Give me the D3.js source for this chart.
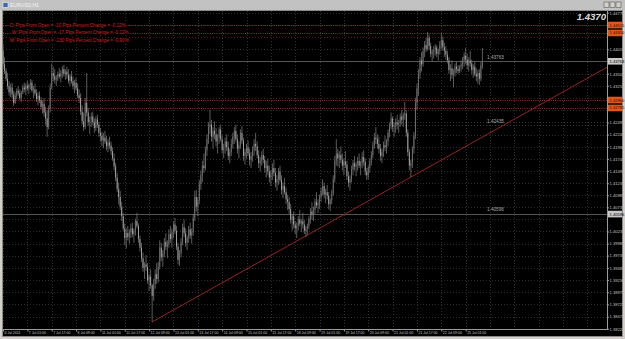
<!DOCTYPE html>
<html><head><meta charset="utf-8">
<script src="https://cdn.jsdelivr.net/npm/d3@7"></script>
<style>html,body{margin:0;padding:0;background:#d4d0c8;overflow:hidden}svg{display:block}</style>
</head><body><svg id="c" width="625" height="339"></svg>
<script>
const symbolTitle = "EURUSD,H1";
const bigPrice = "1.4370";
const infoTexts = [
  "D: Pips From Open = -10 Pips  Percent Change = -0.12%",
  "W: Pips From Open = -17 Pips  Percent Change = -0.12%",
  "M: Pips From Open = -130 Pips  Percent Change = -0.90%"
];
const firstOpen = 1.4398;
const highs = [
1.4410,1.4385,1.4362,1.4352,1.4335,1.4330,1.4332,1.4315,1.4312,1.4320,
1.4325,1.4318,1.4315,1.4328,1.4332,1.4330,1.4336,1.4330,1.4340,1.4338,
1.4325,1.4330,1.4318,1.4312,1.4314,1.4302,1.4295,1.4300,1.4282,1.4275,
1.4285,1.4330,1.4372,1.4365,1.4360,1.4348,1.4355,1.4362,1.4358,1.4366,
1.4369,1.4360,1.4365,1.4360,1.4350,1.4356,1.4345,1.4338,1.4342,1.4330,
1.4318,1.4310,1.4285,1.4270,1.4300,1.4352,1.4280,1.4262,1.4270,1.4272,
1.4258,1.4262,1.4266,1.4250,1.4238,1.4230,1.4228,1.4232,1.4222,1.4215,
1.4220,1.4210,1.4198,1.4185,1.4165,1.4145,1.4125,1.4108,1.4085,1.4062,
1.4040,1.4030,1.4035,1.4028,1.4040,1.4042,1.4030,1.4050,1.4062,1.4040,
1.4015,1.4000,1.3980,1.3960,1.3975,1.3958,1.3935,1.3945,1.3915,1.3925,
1.3945,1.3958,1.3960,1.4005,1.4000,1.3985,1.4010,1.4020,1.4005,1.4028,
1.4035,1.4030,1.4045,1.4052,1.4035,1.4000,1.3985,1.4010,1.4040,1.4048,
1.4030,1.4015,1.4035,1.4042,1.4030,1.4060,1.4108,1.4110,1.4095,1.4130,
1.4150,1.4170,1.4185,1.4200,1.4225,1.4250,1.4276,1.4255,1.4240,1.4252,
1.4238,1.4225,1.4240,1.4245,1.4222,1.4205,1.4218,1.4225,1.4210,1.4195,
1.4215,1.4228,1.4240,1.4245,1.4225,1.4210,1.4235,1.4242,1.4218,1.4195,
1.4205,1.4212,1.4195,1.4188,1.4200,1.4215,1.4228,1.4210,1.4192,1.4178,
1.4190,1.4195,1.4180,1.4170,1.4175,1.4160,1.4150,1.4165,1.4172,1.4155,
1.4140,1.4155,1.4160,1.4140,1.4125,1.4135,1.4115,1.4100,1.4095,1.4080,
1.4060,1.4065,1.4045,1.4042,1.4055,1.4068,1.4050,1.4062,1.4048,1.4035,
1.4040,1.4055,1.4072,1.4084,1.4075,1.4092,1.4105,1.4090,1.4100,1.4115,
1.4132,1.4125,1.4112,1.4120,1.4105,1.4092,1.4110,1.4140,1.4180,1.4215,
1.4195,1.4190,1.4200,1.4185,1.4175,1.4190,1.4170,1.4148,1.4140,1.4160,
1.4172,1.4180,1.4168,1.4178,1.4185,1.4170,1.4188,1.4192,1.4175,1.4155,
1.4160,1.4175,1.4190,1.4210,1.4228,1.4240,1.4225,1.4220,1.4205,1.4195,
1.4210,1.4222,1.4215,1.4235,1.4250,1.4270,1.4262,1.4250,1.4258,1.4265,
1.4255,1.4268,1.4275,1.4270,1.4292,1.4275,1.4235,1.4195,1.4172,1.4200,
1.4230,1.4300,1.4330,1.4360,1.4385,1.4395,1.4405,1.4418,1.4425,1.4437,
1.4432,1.4415,1.4400,1.4408,1.4412,1.4410,1.4402,1.4418,1.4435,1.4428,
1.4415,1.4408,1.4398,1.4385,1.4370,1.4378,1.4360,1.4372,1.4375,1.4368,
1.4368,1.4378,1.4385,1.4395,1.4404,1.4392,1.4385,1.4398,1.4380,1.4370,
1.4375,1.4362,1.4358,1.4360,1.4375,1.4404
];
const lows = [
1.4362,1.4350,1.4335,1.4318,1.4305,1.4302,1.4300,1.4284,1.4288,1.4298,
1.4305,1.4296,1.4292,1.4308,1.4312,1.4306,1.4315,1.4308,1.4318,1.4312,
1.4300,1.4305,1.4292,1.4285,1.4290,1.4276,1.4268,1.4262,1.4245,1.4220,
1.4235,1.4270,1.4318,1.4335,1.4330,1.4325,1.4335,1.4340,1.4332,1.4342,
1.4345,1.4338,1.4340,1.4330,1.4325,1.4330,1.4318,1.4310,1.4315,1.4300,
1.4290,1.4265,1.4245,1.4232,1.4236,1.4262,1.4242,1.4225,1.4240,1.4244,
1.4228,1.4232,1.4238,1.4220,1.4210,1.4200,1.4196,1.4205,1.4192,1.4188,
1.4195,1.4182,1.4170,1.4150,1.4128,1.4105,1.4080,1.4068,1.4045,1.4025,
1.3995,1.3988,1.4005,1.3998,1.4010,1.4012,1.4000,1.4015,1.4030,1.4000,
1.3982,1.3960,1.3940,1.3925,1.3942,1.3915,1.3900,1.3905,1.3836,1.3880,
1.3905,1.3915,1.3918,1.3945,1.3962,1.3950,1.3970,1.3985,1.3968,1.3990,
1.4000,1.3990,1.4010,1.4018,1.3985,1.3955,1.3952,1.3970,1.3995,1.4012,
1.3992,1.3985,1.4000,1.4008,1.3998,1.4015,1.4045,1.4065,1.4055,1.4080,
1.4110,1.4125,1.4145,1.4150,1.4180,1.4205,1.4225,1.4210,1.4195,1.4215,
1.4200,1.4185,1.4205,1.4210,1.4185,1.4175,1.4185,1.4190,1.4172,1.4165,
1.4180,1.4195,1.4205,1.4210,1.4185,1.4175,1.4195,1.4205,1.4170,1.4162,
1.4175,1.4180,1.4160,1.4155,1.4168,1.4180,1.4190,1.4175,1.4155,1.4148,
1.4160,1.4165,1.4145,1.4135,1.4140,1.4125,1.4118,1.4130,1.4138,1.4115,
1.4108,1.4120,1.4125,1.4100,1.4092,1.4100,1.4080,1.4068,1.4060,1.4040,
1.4025,1.4030,1.4018,1.4010,1.4025,1.4035,1.4022,1.4030,1.4018,1.4012,
1.4016,1.4028,1.4040,1.4048,1.4045,1.4060,1.4072,1.4062,1.4070,1.4085,
1.4098,1.4092,1.4082,1.4090,1.4070,1.4066,1.4080,1.4098,1.4125,1.4160,
1.4158,1.4155,1.4165,1.4150,1.4140,1.4155,1.4130,1.4115,1.4108,1.4125,
1.4140,1.4150,1.4138,1.4150,1.4155,1.4140,1.4155,1.4160,1.4140,1.4130,
1.4132,1.4145,1.4160,1.4175,1.4195,1.4205,1.4195,1.4185,1.4170,1.4165,
1.4178,1.4190,1.4185,1.4200,1.4218,1.4235,1.4230,1.4220,1.4228,1.4235,
1.4228,1.4240,1.4245,1.4240,1.4255,1.4220,1.4180,1.4150,1.4136,1.4155,
1.4185,1.4215,1.4275,1.4305,1.4340,1.4355,1.4365,1.4385,1.4395,1.4398,
1.4400,1.4385,1.4376,1.4382,1.4388,1.4385,1.4378,1.4390,1.4402,1.4398,
1.4385,1.4380,1.4372,1.4350,1.4335,1.4340,1.4322,1.4345,1.4352,1.4350,
1.4352,1.4355,1.4360,1.4365,1.4370,1.4360,1.4355,1.4365,1.4350,1.4342,
1.4345,1.4335,1.4330,1.4327,1.4335,1.4360
];
const closes = [
1.4370,1.4356,1.4340,1.4325,1.4312,1.4322,1.4308,1.4290,1.4305,1.4315,
1.4310,1.4300,1.4312,1.4322,1.4318,1.4326,1.4320,1.4328,1.4332,1.4316,
1.4318,1.4310,1.4298,1.4305,1.4295,1.4282,1.4288,1.4270,1.4258,1.4240,
1.4278,1.4322,1.4352,1.4345,1.4338,1.4342,1.4350,1.4345,1.4352,1.4360,
1.4350,1.4355,1.4348,1.4336,1.4345,1.4335,1.4325,1.4332,1.4320,1.4306,
1.4300,1.4272,1.4252,1.4240,1.4290,1.4270,1.4250,1.4255,1.4262,1.4250,
1.4238,1.4256,1.4245,1.4228,1.4222,1.4212,1.4218,1.4210,1.4200,1.4208,
1.4202,1.4190,1.4175,1.4158,1.4135,1.4112,1.4095,1.4075,1.4055,1.4030,
1.4010,1.4020,1.4012,1.4022,1.4030,1.4018,1.4025,1.4045,1.4035,1.4008,
1.3990,1.3968,1.3948,1.3955,1.3950,1.3922,1.3930,1.3912,1.3890,1.3915,
1.3935,1.3925,1.3950,1.3990,1.3970,1.3978,1.4002,1.3992,1.3998,1.4018,
1.4008,1.4022,1.4038,1.4025,1.3992,1.3965,1.3978,1.4002,1.4032,1.4020,
1.4000,1.4010,1.4028,1.4015,1.4022,1.4052,1.4095,1.4075,1.4088,1.4122,
1.4140,1.4160,1.4155,1.4192,1.4215,1.4240,1.4245,1.4220,1.4232,1.4225,
1.4210,1.4218,1.4235,1.4215,1.4192,1.4198,1.4210,1.4198,1.4180,1.4188,
1.4205,1.4220,1.4232,1.4215,1.4195,1.4202,1.4228,1.4212,1.4180,1.4188,
1.4198,1.4185,1.4172,1.4180,1.4192,1.4205,1.4200,1.4182,1.4165,1.4170,
1.4182,1.4172,1.4155,1.4160,1.4148,1.4135,1.4142,1.4155,1.4145,1.4125,
1.4132,1.4148,1.4130,1.4110,1.4118,1.4105,1.4090,1.4085,1.4070,1.4048,
1.4055,1.4038,1.4030,1.4035,1.4048,1.4040,1.4045,1.4038,1.4025,1.4030,
1.4035,1.4050,1.4065,1.4058,1.4068,1.4085,1.4078,1.4082,1.4095,1.4108,
1.4118,1.4100,1.4105,1.4098,1.4080,1.4088,1.4102,1.4132,1.4170,1.4185,
1.4175,1.4182,1.4172,1.4160,1.4168,1.4162,1.4138,1.4125,1.4132,1.4152,
1.4165,1.4158,1.4162,1.4170,1.4160,1.4165,1.4178,1.4168,1.4148,1.4140,
1.4155,1.4168,1.4182,1.4202,1.4218,1.4215,1.4205,1.4195,1.4180,1.4188,
1.4202,1.4198,1.4210,1.4228,1.4245,1.4258,1.4240,1.4242,1.4250,1.4245,
1.4248,1.4262,1.4255,1.4265,1.4268,1.4228,1.4188,1.4160,1.4165,1.4195,
1.4222,1.4290,1.4320,1.4352,1.4378,1.4370,1.4398,1.4410,1.4402,1.4425,
1.4408,1.4392,1.4395,1.4400,1.4405,1.4392,1.4398,1.4410,1.4420,1.4405,
1.4398,1.4390,1.4378,1.4358,1.4362,1.4348,1.4352,1.4365,1.4360,1.4356,
1.4365,1.4370,1.4378,1.4388,1.4380,1.4368,1.4378,1.4372,1.4358,1.4365,
1.4350,1.4345,1.4352,1.4340,1.4368,1.4376
];
const timeLabels = ["6 Jul 2011","7 Jul 01:00","7 Jul 17:00","8 Jul 09:00","11 Jul 01:00","11 Jul 17:00",
  "12 Jul 09:00","13 Jul 01:00","13 Jul 17:00","14 Jul 09:00","15 Jul 01:00","15 Jul 17:00",
  "18 Jul 09:00","19 Jul 01:00","19 Jul 17:00","20 Jul 09:00","21 Jul 01:00","21 Jul 17:00",
  "22 Jul 09:00","25 Jul 01:00"];
const barsPerTimeLabel = 16;
const priceTicks = [1.44770,1.44515,1.44265,1.44010,1.43760,1.43505,1.43255,1.43000,1.42750,
  1.42495,1.42245,1.41990,1.41740,1.41490,1.41235,1.40985,1.40735,1.40490,1.40235,1.39985,
  1.39735,1.39480,1.39230,1.38975,1.38725,1.38470,1.38220];
const pivotLevels = [1.44515, 1.44350, 1.42960, 1.42795];
const markedLevels = [1.43763, 1.42435, 1.40596];
const axisBoxLevels = [1.43763, 1.40596];
const trendPoints = [[98, 1.3836], [269, 1.4138]];

(function () {
if (highs.length !== lows.length || lows.length !== closes.length) throw new Error("len " + highs.length + " " + lows.length + " " + closes.length);

const svg = d3.select("#c");
const pL = 3, pR = 607.5, pT = 11, pB = 329.5;
const x = d3.scaleLinear().domain([0, 397]).range([3, 607.2]);
const y = d3.scaleLinear().domain([1.38220, 1.44770]).range([328.7, 12.7]);
const bars = closes.map((c, i) => ({i, o: i === 0 ? firstOpen : closes[i - 1], h: highs[i], l: lows[i], c}));
const lf = "Liberation Sans, Arial, sans-serif";

// window frame
svg.append("rect").attr("width", 625).attr("height", 339).attr("fill", "#d4d0c8");
svg.append("rect").attr("x", 0).attr("y", 0).attr("width", 625).attr("height", 10).attr("fill", "#c2c2c2");
svg.append("rect").attr("x", 3).attr("y", 2.5).attr("width", 5).attr("height", 5).attr("fill", "#3f6aa8").attr("stroke", "#f0f0f0").attr("stroke-width", 0.6);
svg.append("text").attr("x", 10).attr("y", 7.2).attr("font-family", lf)
  .attr("font-size", 5).attr("fill", "#f4f4f4").text(symbolTitle);
[604, 610, 616].forEach(bx => {
  svg.append("rect").attr("x", bx).attr("y", 2).attr("width", 5).attr("height", 5.5)
    .attr("fill", "#d4d0c8").attr("stroke", "#404040").attr("stroke-width", 0.5);
});
svg.append("rect").attr("x", 2.5).attr("y", 10.5).attr("width", 620).attr("height", 326)
  .attr("fill", "#000").attr("stroke", "#8a8a8a").attr("stroke-width", 1);

const g = svg.append("g");

// grid
g.selectAll("line.hg").data(priceTicks).join("line").attr("class", "hg")
  .attr("x1", pL).attr("x2", pR).attr("y1", d => Math.round(y(d)) + 0.5).attr("y2", d => Math.round(y(d)) + 0.5)
  .attr("stroke", "#2e2e2e").attr("stroke-dasharray", "1,2");
const gridBars = d3.range(0, 397, barsPerTimeLabel);
g.selectAll("line.vg").data(gridBars).join("line").attr("class", "vg")
  .attr("x1", d => Math.round(x(d)) + 0.5).attr("x2", d => Math.round(x(d)) + 0.5).attr("y1", pT).attr("y2", pB)
  .attr("stroke", "#2e2e2e").attr("stroke-dasharray", "1,2");

// marked grey levels
g.selectAll("line.ml").data(markedLevels).join("line").attr("class", "ml")
  .attr("x1", pL).attr("x2", pR).attr("y1", d => Math.round(y(d)) + 0.5).attr("y2", d => Math.round(y(d)) + 0.5)
  .attr("stroke", (d, i) => i === 1 ? "#3a3a3a" : "#555555")
  .attr("stroke-dasharray", (d, i) => i === 1 ? "1,2" : null);

// pivot dotted lines
g.selectAll("line.pv").data(pivotLevels).join("line").attr("class", "pv")
  .attr("x1", pL).attr("x2", pR).attr("y1", d => Math.round(y(d)) + 0.5).attr("y2", d => Math.round(y(d)) + 0.5)
  .attr("stroke", "#b8402a").attr("stroke-width", 0.8).attr("stroke-dasharray", "1,1.2");

// trend line (ray)
const [p0, p1] = trendPoints;
const slope = (p1[1] - p0[1]) / (p1[0] - p0[0]);
const endBar = x.invert(pR);
g.append("line").attr("x1", x(p0[0])).attr("y1", y(p0[1]))
  .attr("x2", x(endBar)).attr("y2", y(p0[1] + slope * (endBar - p0[0])))
  .attr("stroke", "#962222").attr("stroke-width", 1);

// candles
const cg = g.append("g");
cg.selectAll("line.w").data(bars).join("line").attr("class", "w")
  .attr("x1", d => x(d.i)).attr("x2", d => x(d.i))
  .attr("y1", d => y(d.h)).attr("y2", d => y(d.l))
  .attr("stroke", "#7a7a7a").attr("stroke-width", 0.75);
cg.selectAll("rect.b").data(bars).join("rect").attr("class", "b")
  .attr("x", d => x(d.i) - 0.45).attr("width", 0.9)
  .attr("y", d => y(Math.max(d.o, d.c)))
  .attr("height", d => Math.max(0.5, Math.abs(y(d.o) - y(d.c))))
  .attr("fill", d => d.c >= d.o ? "#6e6e6e" : "#a8a8a8");

// level text labels
g.selectAll("text.ml").data(markedLevels).join("text").attr("class", "ml")
  .attr("x", 487).attr("y", d => y(d) - 2.6)
  .attr("font-family", lf).attr("font-size", 4.7).attr("fill", "#a8a8a8")
  .text(d => d.toFixed(5));

// info texts
g.selectAll("text.info").data(infoTexts).join("text").attr("class", "info")
  .attr("x", (d, i) => i === 1 ? 12 : 10)
  .attr("y", (d, i) => 26.6 + i * 7.6)
  .attr("font-family", lf).attr("font-size", 4.6).attr("fill", "#d42424")
  .attr("paint-order", "stroke").attr("stroke", "#000").attr("stroke-width", 1.6)
  .text(d => d);

// big price
g.append("text").attr("x", 606).attr("y", 19.6).attr("text-anchor", "end")
  .attr("font-family", lf).attr("font-size", 9.6).attr("font-weight", "bold").attr("font-style", "italic")
  .attr("fill", "#dcdcdc").text(bigPrice);

// axes lines
g.append("line").attr("x1", pR).attr("x2", pR).attr("y1", pT).attr("y2", pB + 0.5).attr("stroke", "#9a9a9a");
g.append("line").attr("x1", pL).attr("x2", pR).attr("y1", pB).attr("y2", pB).attr("stroke", "#9a9a9a");

// price axis labels (those under a level box are covered, as in the terminal)
const boxLevels = pivotLevels.concat(axisBoxLevels);
const shownTicks = priceTicks.filter(t => !boxLevels.some(b => Math.abs(y(b) - y(t)) < 6.2));
const yAxis = d3.axisRight(y).tickValues(shownTicks).tickSize(1.5).tickFormat(d3.format(".5f"));
const ya = g.append("g").attr("transform", `translate(${pR},0)`).call(yAxis);
ya.select(".domain").remove();
ya.selectAll("line").attr("stroke", "#9a9a9a");
ya.selectAll("text").attr("x", 2).attr("font-family", lf).attr("font-size", 4.1).attr("fill", "#c4c4c4");

// time axis labels
const timeBars = timeLabels.map((t, i) => i * barsPerTimeLabel);
const xAxis = d3.axisBottom(x).tickValues(timeBars).tickSize(2).tickFormat((d, i) => timeLabels[i]);
const xa = g.append("g").attr("transform", `translate(0,${pB})`).call(xAxis);
xa.select(".domain").remove();
xa.selectAll("line").attr("stroke", "#9a9a9a");
xa.selectAll("text").attr("text-anchor", "start").attr("dx", 1).attr("y", 2.2).attr("dy", "0.71em")
  .attr("font-family", lf).attr("font-size", 3.5).attr("fill", "#c4c4c4");

// price axis boxes
g.selectAll("rect.ob").data(pivotLevels).join("rect").attr("class", "ob")
  .attr("x", pR + 0.5).attr("y", d => y(d) - 3.3).attr("width", 14).attr("height", 6.6).attr("fill", "#e2561e");
g.selectAll("text.ob").data(pivotLevels).join("text").attr("class", "ob")
  .attr("x", pR + 2).attr("y", d => y(d) + 1.5)
  .attr("font-family", lf).attr("font-size", 4.1).attr("fill", "#2a0c00").text(d => d.toFixed(5));
g.selectAll("rect.gb").data(axisBoxLevels).join("rect").attr("class", "gb")
  .attr("x", pR + 0.5).attr("y", d => y(d) - 3.3).attr("width", 14).attr("height", 6.6).attr("fill", "#c8c8c8");
g.selectAll("text.gb").data(axisBoxLevels).join("text").attr("class", "gb")
  .attr("x", pR + 2).attr("y", d => y(d) + 1.5)
  .attr("font-family", lf).attr("font-size", 4.1).attr("fill", "#000").text(d => d.toFixed(5));
})();
</script>
</body></html>
